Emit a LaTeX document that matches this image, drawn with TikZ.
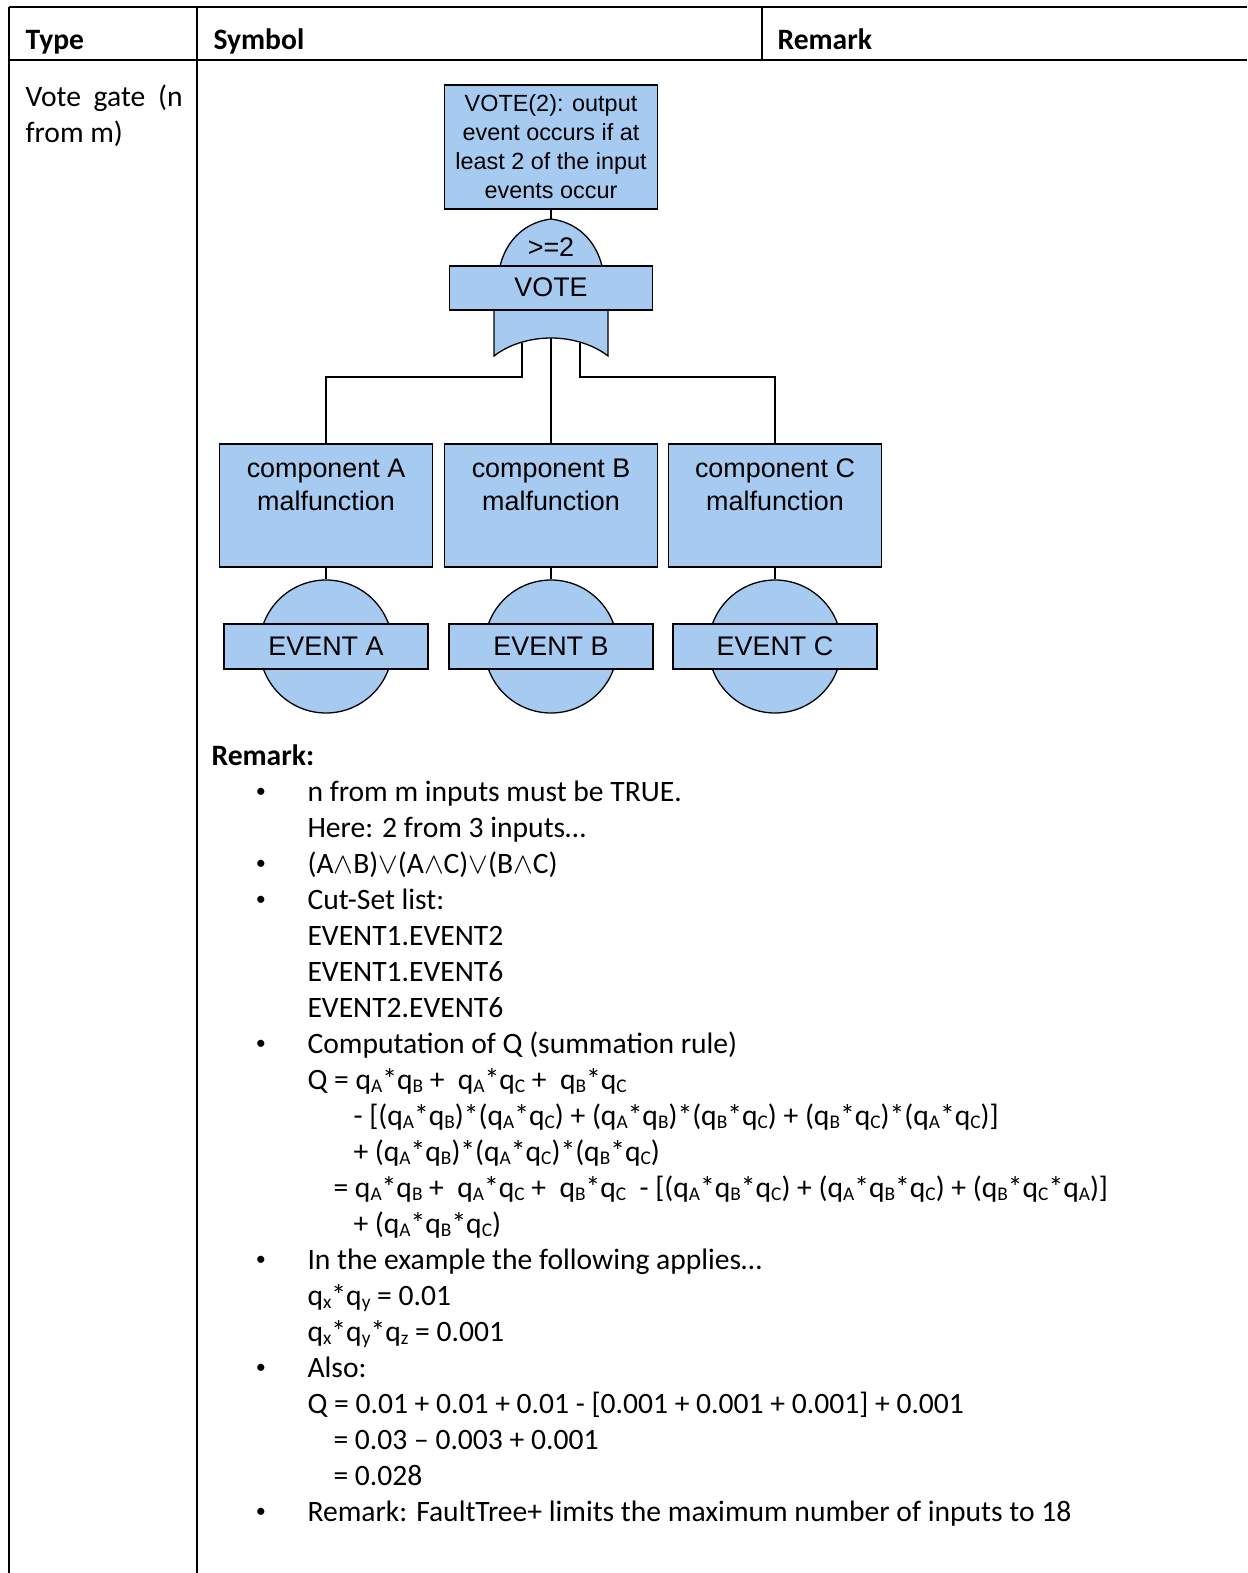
\documentclass[tikz,border=0pt]{standalone}
\usepackage{fontspec}
\setmainfont{Carlito}
\newfontfamily\arialf{Liberation Sans}
\usetikzlibrary{calc}
\definecolor{ftblue}{RGB}{166,202,240}
\newcommand\sbs[1]{\raisebox{-0.13em}{\fontsize{7.2}{8}\selectfont #1}}
\newcommand\qsub[1]{q\sbs{#1}}
\newcommand\bulchar{\raisebox{1.2pt}{\fontsize{7.5}{8}\selectfont •}}
\begin{document}
\begin{tikzpicture}[x=0.37177pt, y=-0.37177pt,
 fbox/.style={draw=black, fill=ftblue, line width=0.48pt, inner sep=0pt, rectangle},
 dtxt/.style={font=\arialf\fontsize{10}{12}\selectfont, anchor=base, inner sep=0pt},
 stxt/.style={font=\arialf\fontsize{8.7}{10.8}\selectfont, anchor=base, inner sep=0pt},
 rt/.style={anchor=base west, inner sep=0pt, font=\fontsize{11}{13.4}\selectfont},
 hd/.style={anchor=base west, inner sep=0pt, font=\bfseries\fontsize{11}{13.4}\selectfont},
 bul/.style={anchor=base, inner sep=0pt, font=\fontsize{11}{13.4}\selectfont},
 conn/.style={draw=black, line width=0.48pt},
 tline/.style={line width=0.75pt}]
\useasboundingbox (0,0) rectangle (1247,1573);
% table
\draw[tline] (9,7) -- (1247,7);
\draw[tline] (9,60) -- (1247,60);
\draw[tline] (9,7) -- (9,1573);
\draw[tline] (197,7) -- (197,1573);
\draw[tline] (762,7) -- (762,60);
\node[hd] (hType) at (25,50) {Type};
\node[hd] (hSym) at (213,50) {Symbol};
\node[hd] (hRem) at (777,50) {Remark};
\node[rt] (ty1) at (25,107) {\makebox[58.37pt][s]{Vote gate (n}};
\node[rt] (ty2) at (25,143) {from m)};
% gate
\node[fbox, minimum width=79.19pt, minimum height=46.1pt] (top) at (551,147) {};
\node[stxt] (tt1) at (551,112) {VOTE(2): output};
\node[stxt] (tt2) at (551,141) {event occurs if at};
\node[stxt] (tt3) at (551,170) {least 2 of the input};
\node[stxt] (tt4) at (551,199) {events occur};
\coordinate (gtop) at (551,219);
\draw[fill=ftblue, line width=0.48pt] (500,266) .. controls (507,238) and (527,222) .. (gtop) .. controls (575,222) and (595,238) .. (602,266) -- cycle;
\draw[fill=ftblue, line width=0.48pt] (494,310) -- (494,356) .. controls (508,345) and (529,338) .. (551,338) .. controls (573,338) and (594,345) .. (608,356) -- (608,310) -- cycle;
\node[fbox, minimum width=75.47pt, minimum height=16.36pt] (vote) at (551,288) {};
\node[dtxt] (vt) at (551,297) {VOTE};
\node[dtxt] (ge) at (551,257) {>=2};
\draw[conn] (top.south) -- (gtop);
\coordinate (gl) at (522,343);
\coordinate (gm) at (551,338);
\coordinate (gr) at (580,343);
% components
\foreach \n/\x/\l in {a/326/A, b/551/B, c/775/C}{
  \node[fbox, minimum width=79.19pt, minimum height=45.73pt] (c\n) at (\x,505.5) {};
  \node[dtxt] (c\n t1) at (\x,477) {component \l};
  \node[dtxt] (c\n t2) at (\x,510) {malfunction};
  \node[fbox, circle, minimum size=49.44pt] (e\n) at (\x,646.5) {};
  \node[fbox, minimum width=75.84pt, minimum height=16.73pt] (r\n) at (\x,646.5) {};
  \node[dtxt] (r\n t) at (\x,655) {EVENT \l};
  \draw[conn] (c\n.south) -- (e\n.north);
}
\draw[conn] (gl) -- ++(0,34) -| (ca.north);
\draw[conn] (gm) -- (cb.north);
\draw[conn] (gr) -- ++(0,34) -| (cc.north);
% remarks
\node[hd] (rmk) at (211,765) {Remark:};
\node[bul] (b1) at (261,801) {\bulchar};
\node[rt] (l1) at (307,801) {n from m inputs must be TRUE.};
\node[rt] (l2) at (307,837) {Here: 2 from 3 inputs…};
\node[bul] (b2) at (261,873) {\bulchar};
\node[rt] (l3) at (307,873) {(A\ensuremath{\wedge}B)\ensuremath{\vee}(A\ensuremath{\wedge}C)\ensuremath{\vee}(B\ensuremath{\wedge}C)};
\node[bul] (b3) at (261,909) {\bulchar};
\node[rt] (l4) at (307,909) {Cut-Set list:};
\node[rt] (l5) at (307,945) {EVENT1.EVENT2};
\node[rt] (l6) at (307,981) {EVENT1.EVENT6};
\node[rt] (l7) at (307,1017) {EVENT2.EVENT6};
\node[bul] (b4) at (261,1053) {\bulchar};
\node[rt] (l8) at (307,1053) {Computation of Q (summation rule)};
\node[rt] (l9) at (307,1089) {Q = \qsub{A}*\qsub{B} + \ \qsub{A}*\qsub{C} + \ \qsub{B}*\qsub{C}};
\node[rt] (l10) at (353,1125) {- [(\qsub{A}*\qsub{B})*(\qsub{A}*\qsub{C}) + (\qsub{A}*\qsub{B})*(\qsub{B}*\qsub{C}) + (\qsub{B}*\qsub{C})*(\qsub{A}*\qsub{C})]};
\node[rt] (l11) at (353,1161) {+ (\qsub{A}*\qsub{B})*(\qsub{A}*\qsub{C})*(\qsub{B}*\qsub{C})};
\node[rt] (l12) at (333,1197) {= \qsub{A}*\qsub{B} + \ \qsub{A}*\qsub{C} + \ \qsub{B}*\qsub{C} \ - [(\qsub{A}*\qsub{B}*\qsub{C}) + (\qsub{A}*\qsub{B}*\qsub{C}) + (\qsub{B}*\qsub{C}*\qsub{A})]};
\node[rt] (l13) at (353,1233) {+ (\qsub{A}*\qsub{B}*\qsub{C})};
\node[bul] (b5) at (261,1269) {\bulchar};
\node[rt] (l14) at (307,1269) {In the example the following applies…};
\node[rt] (l15) at (307,1305) {\qsub{x}*\qsub{y} = 0.01};
\node[rt] (l16) at (307,1341) {\qsub{x}*\qsub{y}*\qsub{z} = 0.001};
\node[bul] (b6) at (261,1377) {\bulchar};
\node[rt] (l17) at (307,1377) {Also:};
\node[rt] (l18) at (307,1413) {Q = 0.01 + 0.01 + 0.01 - [0.001 + 0.001 + 0.001] + 0.001};
\node[rt] (l19) at (333,1449) {= 0.03 -- 0.003 + 0.001};
\node[rt] (l20) at (333,1485) {= 0.028};
\node[bul] (b7) at (261,1521) {\bulchar};
\node[rt] (l21) at (307,1521) {Remark: FaultTree+ limits the maximum number of inputs to 18};
\end{tikzpicture}
\end{document}
